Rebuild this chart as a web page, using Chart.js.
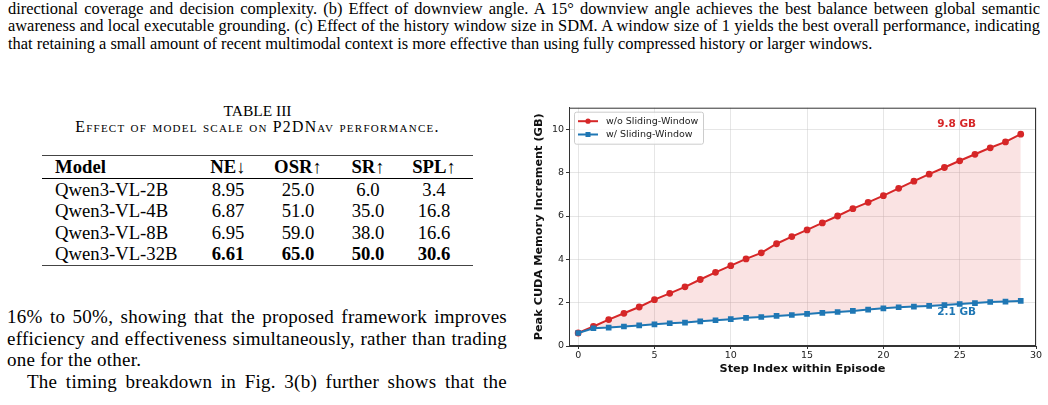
<!DOCTYPE html>
<html>
<head>
<meta charset="utf-8">
<script src="https://cdn.jsdelivr.net/npm/chart.js@4"></script>
<style>
  html, body { margin: 0; padding: 0; background: #fff; }
  body { width: 1048px; height: 405px; position: relative; overflow: hidden; font-family: "Liberation Serif", "Times New Roman", serif; color: #000; }
  .caption { position: absolute; left: 8px; top: 0px; width: 1032px; font-size: 16.4px; line-height: 17.3px; }
  .caption div, .para div { white-space: nowrap; text-align: justify; text-align-last: justify; }
  .caption div.last { text-align-last: left; }
  .tab-title { position: absolute; left: 42px; width: 431px; text-align: center; font-size: 15.5px; white-space: nowrap; }
  #tabno { top: 102px; }
  #tabcap { top: 118px; font-size: 15.8px; font-variant: small-caps; letter-spacing: 1.25px; }
  table { position: absolute; left: 42px; top: 155px; border-collapse: collapse; font-size: 18.7px; }
  table td, table th { padding: 0; line-height: 21.6px; text-align: center; white-space: nowrap; }
  table th { font-weight: bold; }
  table .m { text-align: left; padding-left: 13px; }
  table .e { padding-right: 6px; }
  thead tr { border-top: 1.6px solid #444; border-bottom: 1px solid #000; }
  tbody tr:last-child { border-bottom: 1.6px solid #444; }
  .para { position: absolute; left: 7px; top: 306px; width: 500px; font-size: 19px; line-height: 21.5px; letter-spacing: 0.25px; }
  .para div.ind { padding-left: 20px; }
  .para div.last { text-align-last: left; }
  #wrap { position: absolute; left: 530px; top: 100px; width: 518px; height: 280px; }
</style>
</head>
<body>
<div class="caption">
  <div>directional coverage and decision complexity. (b) Effect of downview angle. A 15° downview angle achieves the best balance between global semantic</div>
  <div>awareness and local executable grounding. (c) Effect of the history window size in SDM. A window size of 1 yields the best overall performance, indicating</div>
  <div class="last">that retaining a small amount of recent multimodal context is more effective than using fully compressed history or larger windows.</div>
</div>

<div class="tab-title" id="tabno">TABLE III</div>
<div class="tab-title" id="tabcap">Effect of model scale on P2DNav performance.</div>
<table>
  <colgroup><col style="width:153px"><col style="width:66px"><col style="width:74px"><col style="width:66px"><col style="width:72px"></colgroup>
  <thead><tr><th class="m">Model</th><th>NE↓</th><th>OSR↑</th><th>SR↑</th><th class="e">SPL↑</th></tr></thead>
  <tbody>
    <tr><td class="m">Qwen3-VL-2B</td><td>8.95</td><td>25.0</td><td>6.0</td><td class="e">3.4</td></tr>
    <tr><td class="m">Qwen3-VL-4B</td><td>6.87</td><td>51.0</td><td>35.0</td><td class="e">16.8</td></tr>
    <tr><td class="m">Qwen3-VL-8B</td><td>6.95</td><td>59.0</td><td>38.0</td><td class="e">16.6</td></tr>
    <tr><td class="m">Qwen3-VL-32B</td><td><b>6.61</b></td><td><b>65.0</b></td><td><b>50.0</b></td><td class="e"><b>30.6</b></td></tr>
  </tbody>
</table>

<div class="para">
  <div>16% to 50%, showing that the proposed framework improves</div>
  <div>efficiency and effectiveness simultaneously, rather than trading</div>
  <div class="last">one for the other.</div>
  <div class="ind">The timing breakdown in Fig. 3(b) further shows that the</div>
</div>

<div id="wrap"><canvas id="memChart" width="518" height="280"></canvas></div>

<script>
// step index within an episode
const steps = [0, 1, 2, 3, 4, 5, 6, 7, 8, 9, 10, 11, 12, 13, 14, 15, 16, 17, 18, 19, 20, 21, 22, 23, 24, 25, 26, 27, 28, 29];
// peak CUDA memory increment (GB)
const memNoWindow = [0.6, 0.9, 1.22, 1.51, 1.8, 2.14, 2.43, 2.73, 3.07, 3.4, 3.71, 4.02, 4.3, 4.72, 5.05, 5.36, 5.68, 6.0, 6.34, 6.63, 6.94, 7.28, 7.61, 7.93, 8.24, 8.55, 8.85, 9.15, 9.42, 9.78];
const memWindow = [0.6, 0.82, 0.85, 0.9, 0.95, 1.0, 1.05, 1.08, 1.14, 1.19, 1.24, 1.3, 1.34, 1.39, 1.43, 1.48, 1.53, 1.57, 1.62, 1.68, 1.74, 1.79, 1.82, 1.85, 1.89, 1.94, 1.98, 2.03, 2.05, 2.08];
const seriesLabels = ["w/o Sliding-Window", "w/ Sliding-Window"];
const peakLabels = ["9.8 GB", "2.1 GB"];
const xTicks = [0, 5, 10, 15, 20, 25, 30];
const yTicks = [0, 2, 4, 6, 8, 10];

const RED = "#d62728";
const BLUE = "#1f77b4";
const FONT = "'DejaVu Sans', sans-serif";

function toPoints(ys) {
  return steps.map((s, i) => ({ x: s, y: ys[i] }));
}

// frame, legend and end labels drawn on top of the chart
const extras = {
  id: "extras",
  afterDraw(chart) {
    const ctx = chart.ctx;
    const a = chart.chartArea;
    const xs = chart.scales.x;
    const ys = chart.scales.y;
    ctx.save();

    // full box like matplotlib spines
    ctx.strokeStyle = "#333";
    ctx.lineWidth = 1;
    ctx.strokeRect(a.left + 0.5, a.top + 0.5, a.right - a.left - 1, a.bottom - a.top - 1);

    // end-value labels
    ctx.font = "bold 10.5px " + FONT;
    ctx.textAlign = "center";
    ctx.textBaseline = "middle";
    const lastX = steps[steps.length - 1];
    ctx.fillStyle = RED;
    ctx.fillText(peakLabels[0], xs.getPixelForValue(lastX - 4.2), ys.getPixelForValue(memNoWindow[memNoWindow.length - 1]) - 10);
    ctx.fillStyle = BLUE;
    ctx.fillText(peakLabels[1], xs.getPixelForValue(lastX - 4.2), ys.getPixelForValue(memWindow[memWindow.length - 1]) + 11.5);

    // legend
    const lx = a.left + 5, ly = a.top + 4, lw = 129, lh = 32;
    ctx.fillStyle = "rgba(255,255,255,0.85)";
    ctx.strokeStyle = "#cccccc";
    ctx.beginPath();
    ctx.roundRect(lx + 0.5, ly + 0.5, lw, lh, 2);
    ctx.fill();
    ctx.stroke();
    ctx.font = "9.5px " + FONT;
    ctx.textAlign = "left";
    chart.data.datasets.forEach((ds, i) => {
      const y = ly + 9.5 + i * 13.3;
      ctx.strokeStyle = ds.borderColor;
      ctx.lineWidth = 2;
      ctx.beginPath();
      ctx.moveTo(lx + 4, y);
      ctx.lineTo(lx + 24, y);
      ctx.stroke();
      ctx.fillStyle = ds.borderColor;
      if (ds.pointStyle === "rect") {
        ctx.fillRect(lx + 14 - 2.5, y - 2.5, 5, 5);
      } else {
        ctx.beginPath();
        ctx.arc(lx + 14, y, 2.6, 0, Math.PI * 2);
        ctx.fill();
      }
      ctx.fillStyle = "#222";
      ctx.fillText(ds.label, lx + 32, y + 0.5);
    });
    ctx.restore();
  }
};

new Chart(document.getElementById("memChart"), {
  type: "line",
  data: {
    datasets: [
      {
        label: seriesLabels[0],
        data: toPoints(memNoWindow),
        borderColor: RED,
        backgroundColor: "rgba(214,39,40,0.13)",
        pointBackgroundColor: RED,
        pointBorderColor: RED,
        pointStyle: "circle",
        pointRadius: 2.4,
        borderWidth: 2,
        fill: { target: "+1", above: "rgba(214,39,40,0.13)", below: "rgba(214,39,40,0.13)" },
        tension: 0,
        order: 1
      },
      {
        label: seriesLabels[1],
        data: toPoints(memWindow),
        borderColor: BLUE,
        backgroundColor: BLUE,
        pointBackgroundColor: BLUE,
        pointBorderColor: BLUE,
        pointStyle: "rect",
        pointRadius: 2.6,
        borderWidth: 2,
        fill: false,
        tension: 0,
        order: 0
      }
    ]
  },
  options: {
    responsive: false,
    animation: false,
    layout: { padding: { top: 3, right: 12, left: 0, bottom: 0 } },
    plugins: {
      legend: { display: false },
      tooltip: { enabled: false }
    },
    scales: {
      x: {
        type: "linear",
        min: -0.6,
        max: 30,
        afterBuildTicks: (s) => { s.ticks = xTicks.map((v) => ({ value: v })); },
        afterFit: (s) => { s.height = 34; },
        grid: { color: "rgba(200,200,200,0.45)", tickColor: "#333", tickLength: 3, drawTicks: true },
        border: { color: "#333" },
        ticks: { font: { family: FONT, size: 9.5 }, color: "#222", padding: 1, maxRotation: 0 },
        title: { display: true, text: "Step Index within Episode", font: { family: FONT, size: 11.3, weight: "bold" }, color: "#111", padding: { top: 0, bottom: 4 } }
      },
      y: {
        min: 0,
        max: 11,
        afterBuildTicks: (s) => { s.ticks = yTicks.map((v) => ({ value: v })); },
        afterFit: (s) => { s.width = 39; },
        grid: { color: "rgba(200,200,200,0.45)", tickColor: "#333", tickLength: 3, drawTicks: true },
        border: { color: "#333" },
        ticks: { font: { family: FONT, size: 9.5 }, color: "#222", padding: 2 },
        title: { display: true, text: "Peak CUDA Memory Increment (GB)", font: { family: FONT, size: 11.3, weight: "bold" }, color: "#111", padding: { top: 2, bottom: 2 } }
      }
    }
  },
  plugins: [extras]
});
</script>
</body>
</html>
